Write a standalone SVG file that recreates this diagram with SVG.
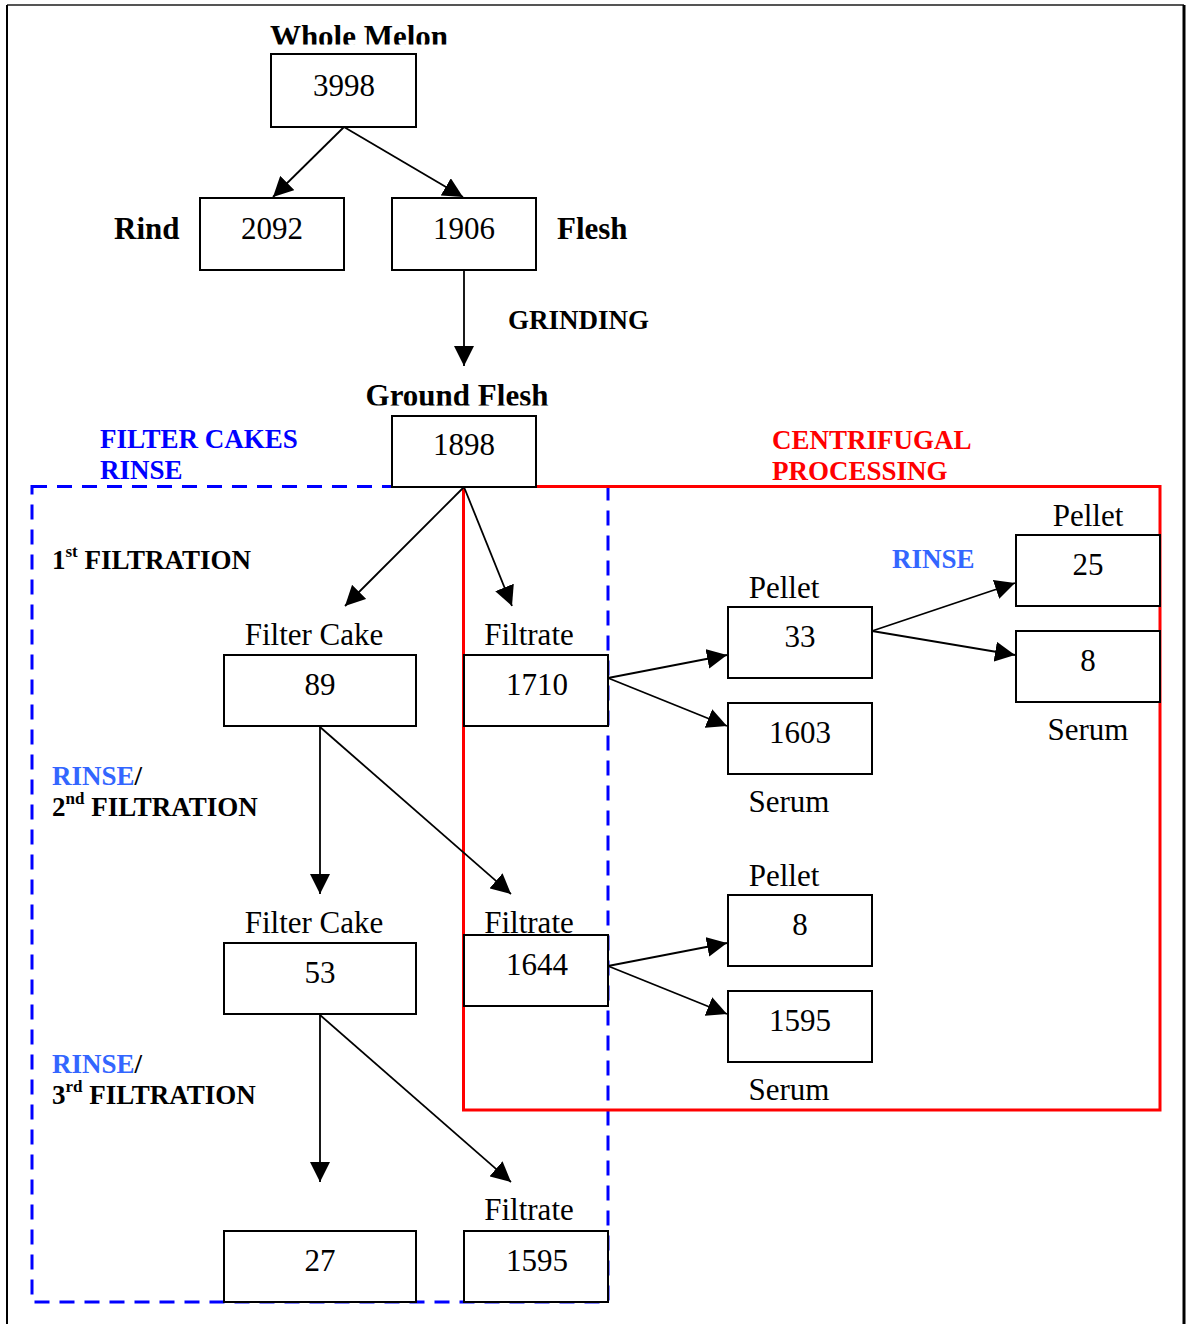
<svg xmlns="http://www.w3.org/2000/svg" width="1186" height="1324" viewBox="0 0 1186 1324">
<style>
text{font-family:"Liberation Serif","Times New Roman",serif;fill:#000}
.n{font-size:31px;text-anchor:middle}
.b{font-size:31px;font-weight:bold}
.s{font-size:27px;font-weight:bold}
.sup{font-size:17px}
.blue{fill:#0000ff}
.lb{fill:#3366ff}
.red{fill:#ff0000}
.box{fill:#fff;stroke:#000;stroke-width:2}
.conn line{stroke:#000;stroke-width:1.8;marker-end:url(#ah)}
</style>
<defs>
<marker id="ah" viewBox="0 0 20 20" refX="20" refY="10" markerWidth="20" markerHeight="20" markerUnits="userSpaceOnUse" orient="auto">
<path d="M0,0 L20,10 L0,20 z" fill="#000"/>
</marker>
<clipPath id="c1"><rect x="200" y="0" width="300" height="44.5"/></clipPath>
<clipPath id="c2"><rect x="300" y="370" width="300" height="35.5"/></clipPath>
</defs>
<rect x="0" y="0" width="1186" height="1324" fill="#fff"/>
<g id="frame">
<line x1="7" y1="5" x2="1184" y2="5" stroke="#555" stroke-width="2"/>
<line x1="7" y1="5" x2="7" y2="1324" stroke="#000" stroke-width="2"/>
<line x1="1184" y1="5" x2="1184" y2="1324" stroke="#000" stroke-width="3"/>
</g>
<g id="filter-region">
<rect x="32" y="486.5" width="576" height="815.5" fill="none" stroke="#0000ff" stroke-width="3" stroke-dasharray="15 10"/>
<text class="s blue" x="100" y="448">FILTER CAKES</text>
<text class="s blue" x="100" y="479">RINSE</text>
<text class="s" x="52" y="569">1<tspan class="sup" dy="-12">st</tspan><tspan dy="12"> FILTRATION</tspan></text>
<text class="s" x="52" y="785"><tspan class="lb">RINSE</tspan>/</text>
<text class="s" x="52" y="816">2<tspan class="sup" dy="-12">nd</tspan><tspan dy="12"> FILTRATION</tspan></text>
<text class="s" x="52" y="1073"><tspan class="lb">RINSE</tspan>/</text>
<text class="s" x="52" y="1104">3<tspan class="sup" dy="-12">rd</tspan><tspan dy="12"> FILTRATION</tspan></text>
</g>
<g id="centrifugal-region">
<rect x="463.5" y="486.5" width="696.5" height="623.5" fill="none" stroke="#ff0000" stroke-width="3"/>
<text class="s red" x="772" y="449">CENTRIFUGAL</text>
<text class="s red" x="772" y="480">PROCESSING</text>
<text class="s lb" x="892" y="568">RINSE</text>
</g>
<g id="whole-melon">
<text class="b" x="359" y="47" text-anchor="middle" clip-path="url(#c1)">Whole Melon</text>
<rect class="box" x="271" y="54" width="145" height="73"/>
<text class="n" x="344" y="96">3998</text>
</g>
<g id="rind">
<text class="b" x="114" y="239">Rind</text>
<rect class="box" x="200" y="198" width="144" height="72"/>
<text class="n" x="272" y="239">2092</text>
</g>
<g id="flesh">
<rect class="box" x="392" y="198" width="144" height="72"/>
<text class="n" x="464" y="239">1906</text>
<text class="b" x="557" y="239">Flesh</text>
</g>
<text class="s" x="508" y="329">GRINDING</text>
<g id="ground-flesh">
<text class="b" x="457" y="406" text-anchor="middle" clip-path="url(#c2)">Ground Flesh</text>
<rect class="box" x="392" y="416" width="144" height="71"/>
<text class="n" x="464" y="455">1898</text>
</g>
<g id="filter-cake-1">
<text class="n" x="314" y="645">Filter Cake</text>
<rect class="box" x="224" y="655" width="192" height="71"/>
<text class="n" x="320" y="695">89</text>
</g>
<g id="filtrate-1">
<text class="n" x="529" y="645">Filtrate</text>
<rect class="box" x="464" y="655" width="144" height="71"/>
<text class="n" x="537" y="695">1710</text>
</g>
<g id="pellet-1">
<text class="n" x="784" y="598">Pellet</text>
<rect class="box" x="728" y="607" width="144" height="71"/>
<text class="n" x="800" y="647">33</text>
</g>
<g id="serum-1">
<rect class="box" x="728" y="703" width="144" height="71"/>
<text class="n" x="800" y="743">1603</text>
<text class="n" x="789" y="812">Serum</text>
</g>
<g id="pellet-rinse">
<text class="n" x="1088" y="526">Pellet</text>
<rect class="box" x="1016" y="535" width="144" height="71"/>
<text class="n" x="1088" y="575">25</text>
</g>
<g id="serum-rinse">
<rect class="box" x="1016" y="631" width="144" height="71"/>
<text class="n" x="1088" y="671">8</text>
<text class="n" x="1088" y="740">Serum</text>
</g>
<g id="filter-cake-2">
<text class="n" x="314" y="933">Filter Cake</text>
<rect class="box" x="224" y="943" width="192" height="71"/>
<text class="n" x="320" y="983">53</text>
</g>
<g id="filtrate-2">
<rect class="box" x="464" y="935" width="144" height="71"/>
<text class="n" x="529" y="933">Filtrate</text>
<text class="n" x="537" y="975">1644</text>
</g>
<g id="pellet-2">
<text class="n" x="784" y="886">Pellet</text>
<rect class="box" x="728" y="895" width="144" height="71"/>
<text class="n" x="800" y="935">8</text>
</g>
<g id="serum-2">
<rect class="box" x="728" y="991" width="144" height="71"/>
<text class="n" x="800" y="1031">1595</text>
<text class="n" x="789" y="1100">Serum</text>
</g>
<g id="filter-cake-3">
<rect class="box" x="224" y="1231" width="192" height="71"/>
<text class="n" x="320" y="1271">27</text>
</g>
<g id="filtrate-3">
<text class="n" x="529" y="1220">Filtrate</text>
<rect class="box" x="464" y="1231" width="144" height="71"/>
<text class="n" x="537" y="1271">1595</text>
</g>
<g id="connectors" class="conn">
<line x1="344" y1="127" x2="273" y2="197"/>
<line x1="344" y1="127" x2="463" y2="197"/>
<line x1="464" y1="270" x2="464" y2="366"/>
<line x1="464" y1="487" x2="345" y2="606"/>
<line x1="464" y1="487" x2="512" y2="606"/>
<line x1="608" y1="678" x2="727" y2="655"/>
<line x1="608" y1="678" x2="727" y2="726"/>
<line x1="872" y1="631" x2="1015" y2="583"/>
<line x1="872" y1="631" x2="1015" y2="655"/>
<line x1="320" y1="727" x2="320" y2="894"/>
<line x1="320" y1="727" x2="511" y2="894"/>
<line x1="608" y1="966" x2="727" y2="943"/>
<line x1="608" y1="966" x2="727" y2="1014"/>
<line x1="320" y1="1015" x2="320" y2="1182"/>
<line x1="320" y1="1015" x2="511" y2="1182"/>
</g>
</svg>
